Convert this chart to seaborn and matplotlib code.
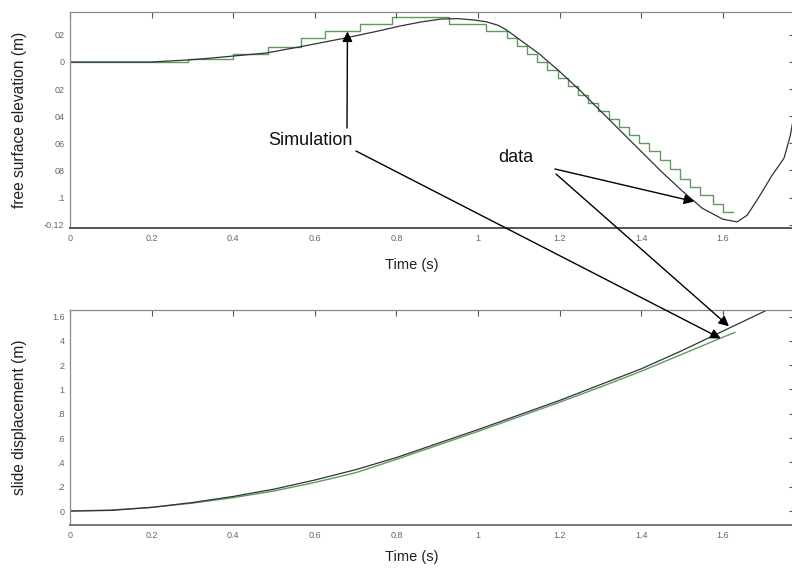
import matplotlib
matplotlib.use("Agg")
import matplotlib.pyplot as plt
from matplotlib.patches import ConnectionPatch
import pandas as pd
import seaborn as sns

# ---------------------------------------------------------------
# Values
# ---------------------------------------------------------------
# free surface elevation, measured (smooth curve)
eta_data_t = [0, 0.1, 0.2, 0.29, 0.35, 0.40, 0.48, 0.56, 0.62, 0.68, 0.75, 0.81,
              0.86, 0.91, 0.95, 0.99, 1.02, 1.05, 1.07, 1.10, 1.15, 1.20, 1.25,
              1.30, 1.35, 1.40, 1.45, 1.50, 1.55, 1.60, 1.635, 1.66, 1.69, 1.72,
              1.75, 1.765, 1.78]
eta_data_v = [0, 0, 0, 0.0015, 0.003, 0.0044, 0.0066, 0.011, 0.0145, 0.018, 0.0225,
              0.0266, 0.0295, 0.0317, 0.032, 0.031, 0.0297, 0.027, 0.0236, 0.017,
              0.006, -0.007, -0.021, -0.036, -0.051, -0.066, -0.081, -0.095, -0.108,
              -0.116, -0.118, -0.113, -0.099, -0.084, -0.071, -0.055, -0.03]

# free surface elevation, simulation (staircase, steps-post)
eta_sim_t = [0, 0.29, 0.40, 0.485, 0.565, 0.625, 0.71, 0.79, 0.93, 1.02, 1.07,
             1.095, 1.12, 1.145, 1.17, 1.195, 1.22, 1.245, 1.27, 1.295, 1.32,
             1.345, 1.37, 1.395, 1.42, 1.445, 1.47, 1.495, 1.52, 1.545, 1.575,
             1.60, 1.625]
eta_sim_v = [0, 0.002, 0.0059, 0.0113, 0.0177, 0.023, 0.028, 0.0334, 0.028, 0.023,
             0.018, 0.012, 0.006, 0.0, -0.006, -0.012, -0.018, -0.024, -0.030,
             -0.036, -0.042, -0.048, -0.054, -0.060, -0.066, -0.072, -0.079,
             -0.086, -0.092, -0.098, -0.105, -0.111, -0.111]

# slide displacement
disp_data_t = [0, 0.1, 0.2, 0.3, 0.4, 0.5, 0.6, 0.7, 0.8, 0.9, 1.0, 1.1, 1.2,
               1.3, 1.4, 1.5, 1.6, 1.7, 1.75]
disp_data_v = [0, 0.005, 0.03, 0.07, 0.12, 0.18, 0.255, 0.34, 0.44, 0.555, 0.67,
               0.79, 0.91, 1.04, 1.17, 1.32, 1.48, 1.64, 1.72]
disp_sim_t = [0, 0.1, 0.2, 0.3, 0.4, 0.5, 0.6, 0.7, 0.8, 0.9, 1.0, 1.1, 1.2,
              1.3, 1.4, 1.5, 1.6, 1.63]
disp_sim_v = [0, 0.008, 0.03, 0.065, 0.11, 0.165, 0.235, 0.315, 0.425, 0.54,
              0.655, 0.775, 0.895, 1.02, 1.15, 1.29, 1.43, 1.47]

x_ticks = [0, 0.2, 0.4, 0.6, 0.8, 1.0, 1.2, 1.4, 1.6]
x_tick_labels = ["0", "0.2", "0.4", "0.6", "0.8", "1", "1.2", "1.4", "1.6"]
eta_ticks = [0.02, 0, -0.02, -0.04, -0.06, -0.08, -0.1, -0.12]
eta_tick_labels = ["02", "0", "02", "04", "06", "08", ".1", "-0.12"]
disp_ticks = [0, 0.2, 0.4, 0.6, 0.8, 1.0, 1.2, 1.4, 1.6]
disp_tick_labels = ["0", ".2", ".4", ".6", ".8", "1", "2", "4", "1.6"]

# ---------------------------------------------------------------
sns.set_style("white")
plt.rcParams["font.family"] = ["Liberation Sans", "DejaVu Sans"]
narrow = ["Liberation Sans Narrow", "Liberation Sans", "DejaVu Sans"]

SIM_COLOR = "#5f9a5f"
DATA_COLOR = "#2e3338"

fig = plt.figure(figsize=(7.92, 5.68), dpi=100)
ax1 = fig.add_axes([0.0884, 0.5986, 0.9154, 0.3803])
ax2 = fig.add_axes([0.0884, 0.0757, 0.9154, 0.3785])

eta_sim = pd.DataFrame({"t": eta_sim_t, "v": eta_sim_v})
eta_data = pd.DataFrame({"t": eta_data_t, "v": eta_data_v})
disp_sim = pd.DataFrame({"t": disp_sim_t, "v": disp_sim_v})
disp_data = pd.DataFrame({"t": disp_data_t, "v": disp_data_v})

sns.lineplot(data=eta_sim, x="t", y="v", ax=ax1, color=SIM_COLOR, lw=1.0,
             drawstyle="steps-post", estimator=None)
sns.lineplot(data=eta_data, x="t", y="v", ax=ax1, color=DATA_COLOR, lw=0.9,
             estimator=None)
sns.lineplot(data=disp_sim, x="t", y="v", ax=ax2, color=SIM_COLOR, lw=1.0,
             estimator=None)
sns.lineplot(data=disp_data, x="t", y="v", ax=ax2, color=DATA_COLOR, lw=0.9,
             estimator=None)

def style_axes(ax, yticks, ylabels, ylim, ylabel, xlab_y, bottom_col):
    ax.set_xlim(0, 1.777)
    ax.set_ylim(*ylim)
    ax.set_xticks(x_ticks)
    ax.set_xticklabels(x_tick_labels, family=narrow, fontsize=6.5, color="#666666")
    ax.set_yticks(yticks)
    ax.set_yticklabels(ylabels, family=narrow, fontsize=6.5, color="#666666")
    ax.tick_params(direction="in", length=4, width=0.8, color="#555555",
                   top=True, right=True, pad=4)
    for name, sp in ax.spines.items():
        sp.set_visible(True)
        sp.set_color("#8a8a8a")
        sp.set_linewidth(0.9)
    ax.spines["bottom"].set_color(bottom_col)
    ax.spines["bottom"].set_linewidth(1.4)
    ax.set_xlabel("Time (s)", family=narrow, fontsize=10.5, color="#222222")
    ax.xaxis.set_label_coords(0.472, xlab_y)
    ax.set_ylabel(ylabel, fontsize=11.2, color="#222222")
    ax.yaxis.set_label_coords(-0.059, 0.5)
    ax.grid(False)

style_axes(ax1, eta_ticks, eta_tick_labels, (-0.1225, 0.0369),
           "free surface elevation (m)", -0.139, "#555555")
style_axes(ax2, disp_ticks, disp_tick_labels, (-0.115, 1.654),
           "slide displacement (m)", -0.116, "#777777")

# ---------------------------------------------------------------
# annotation labels with arrows
# ---------------------------------------------------------------
def fig_frac(px, py):
    return px / 792.0, 1 - py / 568.0

fig.text(*fig_frac(310, 141), "Simulation", fontsize=13, ha="center",
         va="center", color="#111111")
fig.text(*fig_frac(516, 158), "data", fontsize=13, ha="center",
         va="center", color="#111111")

arrows = [
    (fig_frac(347, 128), ax1, (0.68, 0.0225)),
    (fig_frac(356, 151), ax2, (1.595, 1.42)),
    (fig_frac(555, 169), ax1, (1.53, -0.103)),
    (fig_frac(556, 174), ax2, (1.615, 1.52)),
]
for start, target_ax, tip in arrows:
    con = ConnectionPatch(xyA=start, coordsA=fig.transFigure,
                          xyB=tip, coordsB=target_ax.transData,
                          arrowstyle="-|>", mutation_scale=15,
                          color="black", lw=1.0, shrinkA=0, shrinkB=0)
    fig.add_artist(con)

fig.savefig("out.png", dpi=100)
